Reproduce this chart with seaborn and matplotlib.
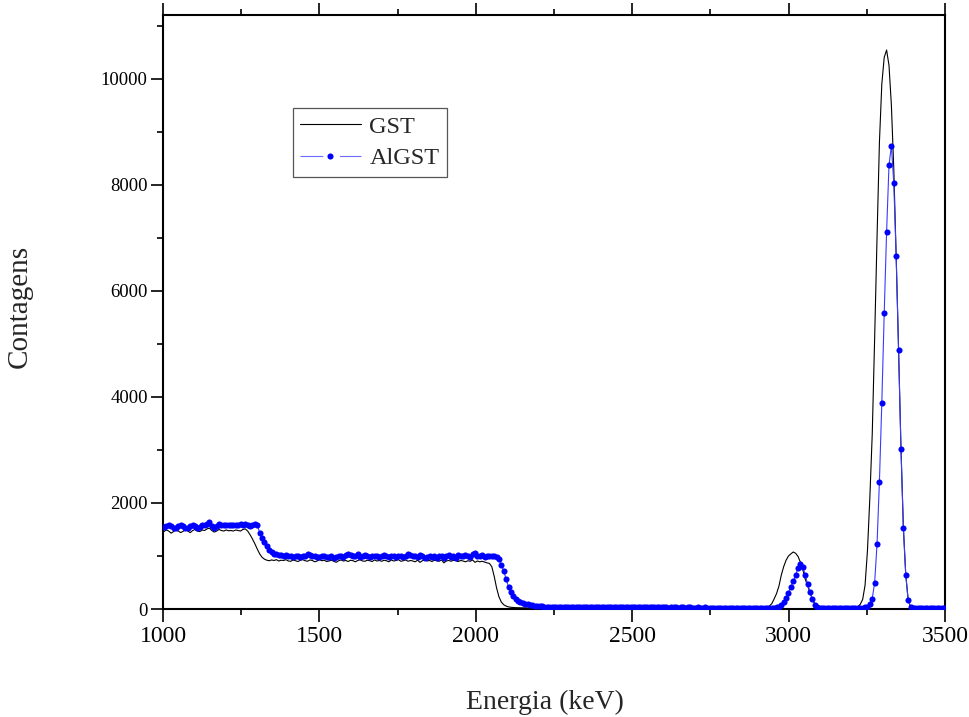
import numpy as np
import pandas as pd
import matplotlib
matplotlib.use("Agg")
import matplotlib.pyplot as plt
from matplotlib.ticker import MultipleLocator
import seaborn as sns

# Energy calibration of the spectrum channels (keV)
CAL_OFFSET = 1003.0
CAL_GAIN = 7.65

# Counts per channel, GST sample
gst_counts = [
    1460, 1490, 1470, 1430, 1460, 1490, 1470, 1440, 1465, 1495,
    1470, 1440, 1480, 1500, 1470, 1460, 1490, 1480, 1510, 1525,
    1480, 1450, 1470, 1500, 1480, 1470, 1490, 1475, 1480, 1470,
    1490, 1480, 1470, 1500, 1510, 1470, 1400, 1320, 1230, 1130,
    1040, 975, 940, 920, 910, 925, 915, 930, 905, 920,
    915, 930, 905, 900, 925, 910, 895, 920, 930, 910,
    900, 925, 915, 890, 905, 930, 910, 920, 895, 905,
    920, 900, 880, 910, 925, 905, 915, 895, 920, 910,
    890, 915, 930, 905, 900, 920, 910, 895, 925, 905,
    915, 900, 920, 910, 890, 925, 905, 915, 930, 900,
    910, 925, 900, 915, 905, 890, 920, 880, 910, 930,
    905, 915, 895, 920, 910, 900, 925, 870, 905, 915,
    900, 920, 910, 895, 915, 905, 890, 910, 900, 925,
    880, 905, 890, 900, 885, 870, 860, 800, 620, 400,
    230, 130, 80, 55, 40, 32, 28, 25, 24, 22,
    22, 21, 20, 22, 20, 19, 21, 20, 19, 20,
    19, 20, 18, 19, 20, 18, 19, 17, 19, 18,
    18, 17, 19, 18, 17, 18, 16, 18, 17, 17,
    17, 16, 18, 17, 16, 17, 16, 15, 17, 16,
    16, 15, 16, 17, 15, 16, 15, 16, 14, 15,
    15, 16, 14, 15, 16, 14, 15, 14, 15, 14,
    14, 15, 14, 13, 15, 14, 13, 14, 15, 13,
    14, 13, 14, 15, 13, 14, 13, 14, 13, 14,
    13, 14, 13, 14, 15, 14, 15, 16, 15, 16,
    15, 16, 15, 14, 16, 15, 16, 15, 16, 17,
    18, 22, 30, 55, 100, 190, 290, 430, 640, 800,
    920, 1000, 1040, 1075, 1050, 990, 880, 740, 560, 440,
    300, 190, 100, 50, 28, 20, 18, 17, 16, 16,
    16, 15, 16, 15, 16, 17, 16, 18, 20, 25,
    45, 90, 180, 450, 1100, 2100, 3300, 5100, 7000, 8800,
    9900, 10400, 10540, 10250, 9500, 8300, 6650, 4900, 3050, 1550,
    650, 180, 40, 18, 15, 14, 14, 13, 14, 13,
    13, 14, 13, 12, 13, 13, 12,
]

# Counts per channel, AlGST sample
algst_counts = [
    1550, 1570, 1585, 1560, 1530, 1520, 1560, 1585, 1560, 1525,
    1530, 1560, 1585, 1570, 1530, 1550, 1580, 1590, 1610, 1640,
    1570, 1520, 1560, 1610, 1590, 1580, 1590, 1575, 1590, 1580,
    1590, 1575, 1595, 1580, 1600, 1585, 1570, 1590, 1600, 1585,
    1440, 1340, 1260, 1190, 1120, 1070, 1045, 1040, 1020, 1010,
    1000, 1015, 990, 1005, 985, 1000, 995, 980, 990, 1000,
    1040, 1010, 990, 1000, 980, 975, 990, 1000, 975, 985,
    990, 970, 985, 1000, 995, 980, 1010, 1040, 1020, 995,
    1000, 1030, 985, 990, 1010, 1000, 980, 1005, 990, 1000,
    985, 995, 1010, 990, 975, 1000, 990, 985, 1005, 995,
    980, 995, 1040, 1010, 990, 1000, 985, 1020, 995, 960,
    975, 1000, 985, 995, 960, 990, 1000, 970, 990, 1010,
    985, 1000, 970, 1010, 995, 990, 1020, 1000, 980, 1040,
    1060, 1000, 990, 1010, 985, 1005, 1000, 990, 995, 980,
    950, 830, 720, 560, 420, 320, 240, 190, 160, 135,
    115, 100, 90, 80, 72, 65, 60, 55, 50, 47,
    45, 42, 40, 38, 40, 37, 36, 38, 35, 36,
    35, 37, 34, 36, 35, 33, 36, 34, 35, 33,
    34, 32, 35, 33, 34, 32, 33, 35, 32, 33,
    32, 34, 31, 33, 32, 30, 33, 31, 32, 30,
    31, 32, 30, 31, 29, 31, 30, 32, 29, 30,
    30, 28, 31, 29, 30, 28, 29, 30, 28, 29,
    29, 27, 28, 30, 27, 28, 29, 27, 28, 26,
    28, 27, 26, 28, 27, 25, 27, 26, 28, 25,
    26, 27, 25, 26, 24, 26, 25, 27, 24, 25,
    25, 24, 26, 24, 25, 27, 30, 40, 70, 130,
    215, 300, 420, 520, 640, 780, 850, 790, 640, 470,
    320, 180, 80, 40, 26, 22, 21, 20, 21, 20,
    20, 19, 20, 21, 19, 20, 19, 20, 21, 20,
    21, 22, 25, 30, 40, 88, 195, 496, 1220, 2403,
    3893, 5572, 7113, 8365, 8736, 8025, 6647, 4887, 3025, 1534,
    647, 170, 40, 22, 18, 17, 16, 17, 16, 15,
    16, 15, 16, 15, 14, 15, 15,
]

series_names = ["GST", "AlGST"]
x_ticks = [1000, 1500, 2000, 2500, 3000, 3500]
y_ticks = [0, 2000, 4000, 6000, 8000, 10000]

assert len(gst_counts) == len(algst_counts)
energy = CAL_OFFSET + CAL_GAIN * np.arange(len(gst_counts))

df = pd.concat([
    pd.DataFrame({"Energia": energy, "Contagens": gst_counts, "amostra": series_names[0]}),
    pd.DataFrame({"Energia": energy, "Contagens": algst_counts, "amostra": series_names[1]}),
], ignore_index=True)

sns.set_style("ticks")
plt.rcParams["font.family"] = ["Liberation Serif", "DejaVu Serif"]

fig = plt.figure(figsize=(9.70, 7.17), dpi=100)
ax = fig.add_axes([163 / 970, 1 - 609 / 717, 782 / 970, 594 / 717])

sns.lineplot(data=df[df["amostra"] == "GST"], x="Energia", y="Contagens",
             ax=ax, color="black", linewidth=0.8, estimator=None, sort=False,
             label="GST", zorder=2)
sns.lineplot(data=df[df["amostra"] == "AlGST"], x="Energia", y="Contagens",
             ax=ax, color="#3a3aff", linewidth=0.8, estimator=None, sort=False,
             marker="o", markersize=4.4, markerfacecolor="#0000ff",
             markeredgecolor="#0000ff", markeredgewidth=0,
             label="AlGST", zorder=3)

ax.set_xlim(1000, 3500)
ax.set_ylim(0, 11200)
ax.set_xticks(x_ticks)
ax.set_yticks(y_ticks)
ax.xaxis.set_minor_locator(MultipleLocator(250))
ax.yaxis.set_minor_locator(MultipleLocator(1000))

for side in ["left", "right", "top", "bottom"]:
    ax.spines[side].set_visible(True)
    ax.spines[side].set_linewidth(1.5)
    ax.spines[side].set_color("black")

ax.tick_params(axis="x", which="both", direction="out", top=True, bottom=True,
               labeltop=False, width=1.2, colors="black")
ax.tick_params(axis="y", which="both", direction="out", left=True, right=False,
               width=1.2, colors="black")
ax.tick_params(which="major", length=9)
ax.tick_params(which="minor", length=4.5)
ax.tick_params(axis="x", which="major", labelsize=17, pad=3)
ax.tick_params(axis="y", which="major", labelsize=13.5, pad=2)

ax.set_xlabel("Energia (keV)", fontsize=20, va="top")
ax.xaxis.set_label_coords(0.488, -0.136)
ax.set_ylabel("Contagens", fontsize=21)
ax.yaxis.set_label_coords(-0.166, 0.51)

leg = ax.legend(loc="upper left", bbox_to_anchor=(0.166, 0.843), borderaxespad=0,
                fontsize=17.5, frameon=True, fancybox=False, framealpha=1,
                edgecolor="#555555", handlelength=2.5, handletextpad=0.35,
                labelspacing=0.4, borderpad=0.3, numpoints=1)
leg.get_frame().set_linewidth(0.9)
# Line + symbol key: leave a gap on both sides of the dot
algst_key = leg.legend_handles[1]
algst_key.set_color("#6a6aff")
algst_key.set_linestyle((0, (20.5, 15.0)))

fig.savefig("out.png", dpi=100)
